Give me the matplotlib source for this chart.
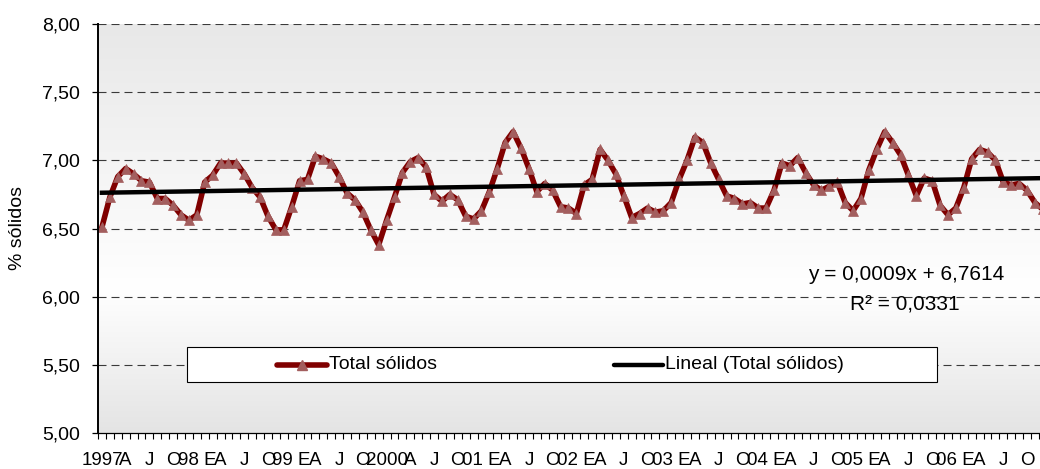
import numpy as np
import matplotlib
matplotlib.use("Agg")
import matplotlib.pyplot as plt
from matplotlib.lines import Line2D
from matplotlib.patches import Rectangle
from matplotlib.ticker import FuncFormatter, MultipleLocator, FixedLocator
from matplotlib.colors import LinearSegmentedColormap

plt.rcParams['font.family'] = ['Liberation Sans', 'DejaVu Sans']

# ---------------- data ----------------
solidos = [
    6.51, 6.73, 6.88, 6.94, 6.90, 6.85, 6.84, 6.72, 6.72, 6.67, 6.60, 6.56,   # 1997
    6.60, 6.84, 6.89, 6.98, 6.98, 6.98, 6.90, 6.80, 6.73, 6.59, 6.49, 6.49,   # 1998
    6.66, 6.85, 6.86, 7.03, 7.01, 6.98, 6.88, 6.76, 6.71, 6.62, 6.49, 6.38,   # 1999
    6.56, 6.73, 6.91, 6.99, 7.02, 6.95, 6.75, 6.70, 6.75, 6.71, 6.59, 6.57,   # 2000
    6.63, 6.77, 6.94, 7.13, 7.21, 7.09, 6.94, 6.77, 6.83, 6.78, 6.66, 6.65,   # 2001
    6.61, 6.82, 6.86, 7.08, 7.00, 6.90, 6.74, 6.58, 6.61, 6.65, 6.62, 6.63,   # 2002
    6.69, 6.86, 7.00, 7.17, 7.13, 6.98, 6.86, 6.74, 6.72, 6.68, 6.69, 6.65,   # 2003
    6.65, 6.78, 6.98, 6.96, 7.02, 6.91, 6.82, 6.78, 6.81, 6.84, 6.69, 6.63,   # 2004
    6.72, 6.93, 7.08, 7.21, 7.13, 7.04, 6.89, 6.74, 6.87, 6.85, 6.67, 6.60,   # 2005
    6.65, 6.80, 7.01, 7.08, 7.06, 7.00, 6.84, 6.82, 6.83, 6.78, 6.69, 6.64,   # 2006
]
tick_labels = [
    "1997", "A", "J", "O",
    "98 E", "A", "J", "O",
    "99 E", "A", "J", "O",
    "2000", "A", "J", "O",
    "01 E", "A", "J", "O",
    "02 E", "A", "J", "O",
    "03 E", "A", "J", "O",
    "04 E", "A", "J", "O",
    "05 E", "A", "J", "O",
    "06 E", "A", "J", "O",
]
trend_slope = 0.0009
trend_intercept = 6.7614
r2 = 0.0331
series_name = "Total sólidos"
trend_name = "Lineal (Total sólidos)"
y_label = "% sólidos"

# ---------------- figure ----------------
W, H = 1040, 469
fig = plt.figure(figsize=(W / 100, H / 100), dpi=100)
fig.patch.set_facecolor('white')

def fx(x):
    return x / W

def fy(y):
    return 1 - y / H

ax_left, ax_top, ax_bot, ax_right = 98, 24, 433, 1046.8
ax = fig.add_axes([fx(ax_left), fy(ax_bot), fx(ax_right - ax_left), (ax_bot - ax_top) / H])

n = len(solidos)
x = np.arange(n)

# gradient background
cmap = LinearSegmentedColormap.from_list(
    'bg', [(0.0, '#e4e4e4'), (0.35, '#ffffff'), (1.0, '#e8e8e8')])
gimg = np.linspace(0, 1, 256).reshape(-1, 1)
ax.imshow(gimg, cmap=cmap, aspect='auto', extent=[0, 1, 0, 1],
          transform=ax.transAxes, origin='lower', zorder=0)
ax.set_facecolor('none')

ax.set_xlim(-0.5, n - 0.5)
ax.set_ylim(5.0, 8.0)

# grid
for yv in np.arange(5.5, 8.01, 0.5):
    ax.axhline(yv, color='#3a3a3a', lw=0.8, ls=(0, (7.2, 4.5)), zorder=1)

line_color = '#800000'
marker_color = '#a35e5e'
ax.plot(x, solidos, color=line_color, lw=4.0, marker='^', markersize=6.5,
        markerfacecolor=marker_color, markeredgecolor=marker_color,
        markeredgewidth=0.5, zorder=3, solid_joinstyle='round')

xt = np.array([1, n])
ax.plot(xt - 1, trend_slope * xt + trend_intercept, color='black', lw=3.2, zorder=4)

# axes styling
for s in ['top', 'right']:
    ax.spines[s].set_visible(False)
ax.spines['left'].set_linewidth(1.4)
ax.spines['bottom'].set_linewidth(0.9)
ax.spines['left'].set_zorder(5)
ax.spines['bottom'].set_zorder(5)

ax.yaxis.set_major_locator(MultipleLocator(0.5))
ax.yaxis.set_major_formatter(FuncFormatter(lambda v, p: f"{v:.2f}".replace('.', ',')))
ax.tick_params(axis='y', direction='out', length=4, width=0.9, pad=9, labelsize=14)

ax.xaxis.set_major_locator(FixedLocator(np.arange(0, n, 3)))
ax.set_xticklabels(tick_labels)
ax.xaxis.set_minor_locator(FixedLocator(np.arange(-0.5, n, 1.0)))
ax.tick_params(axis='x', which='major', length=0, pad=14, labelsize=13.5)
ax.tick_params(axis='x', which='minor', direction='out', length=4, width=0.8)

fig.text(fx(18), fy(228), y_label, rotation=90, ha='center', va='center', fontsize=14)

# trend equation
fig.text(fx(906), fy(275), "y = 0,0009x + 6,7614", ha='center', va='center', fontsize=15)
fig.text(fx(905), fy(305), "R² = 0,0331", ha='center', va='center', fontsize=15)

# legend (manual)
lx0, ly0, lx1, ly1 = 187, 347, 937, 382
fig.add_artist(Rectangle((fx(lx0), fy(ly1)), fx(lx1 - lx0), (ly1 - ly0) / H,
                         facecolor='white', edgecolor='black', lw=0.8,
                         transform=fig.transFigure, zorder=10))
ymid = fy((ly0 + ly1) / 2)
fig.add_artist(Line2D([fx(277), fx(327)], [ymid, ymid], color=line_color, lw=4.0,
                      transform=fig.transFigure, zorder=11, solid_capstyle='round'))
fig.add_artist(Line2D([fx(302)], [ymid], marker='^', markersize=6.5, color=marker_color,
                      transform=fig.transFigure, zorder=12))
fig.text(fx(329), ymid, series_name, ha='left', va='center', fontsize=14, zorder=12)
fig.add_artist(Line2D([fx(614), fx(663)], [ymid, ymid], color='black', lw=3.2,
                      transform=fig.transFigure, zorder=11, solid_capstyle='round'))
fig.text(fx(665), ymid, trend_name, ha='left', va='center', fontsize=14, zorder=12)

fig.savefig('out.png', dpi=100)
